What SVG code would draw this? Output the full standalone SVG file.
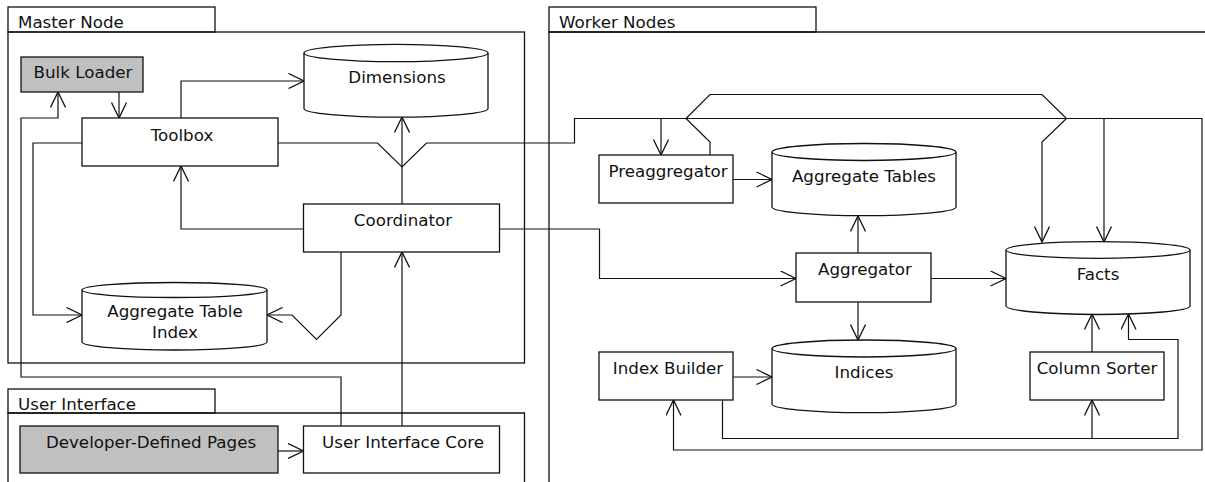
<svg xmlns="http://www.w3.org/2000/svg" width="1205" height="482" viewBox="0 0 1205 482">
  <style>
    text { font-family: "DejaVu Sans", "Liberation Sans", sans-serif; font-size: 16.7px; fill: #111; }
    .c { text-anchor: middle; }
    .frame { fill: none; stroke: #111; stroke-width: 1.3; }
    .box { fill: #fff; stroke: #111; stroke-width: 1.3; }
    .ext { fill: #c0c0c0; stroke: #111; stroke-width: 1.3; }
    .db { fill: #fff; stroke: #111; stroke-width: 1.3; }
    .wire { fill: none; stroke: #111; stroke-width: 1.2; }
    .arrow { marker-end: url(#open); }
  </style>
  <defs>
    <marker id="open" viewBox="0 0 18 16" markerWidth="18" markerHeight="16" refX="16" refY="8" orient="auto" markerUnits="userSpaceOnUse">
      <path d="M0.5,0.5 L16,8 L0.5,15.5" fill="none" stroke="#111" stroke-width="1.3"/>
    </marker>
  </defs>

  <rect width="1205" height="482" fill="#fff"/>

  <!-- package frames -->
  <g id="master-node">
    <rect class="frame" x="8" y="7" width="207" height="25"/>
    <rect class="frame" x="8" y="32" width="516.5" height="331"/>
    <text x="18" y="27.5">Master Node</text>
  </g>
  <g id="worker-nodes">
    <rect class="frame" x="549" y="7" width="267" height="25"/>
    <path class="frame" d="M549,490 L549,32 L1215,32"/>
    <text x="559" y="27.5">Worker Nodes</text>
  </g>
  <g id="user-interface">
    <rect class="frame" x="8" y="389" width="207" height="24"/>
    <path class="frame" d="M8,490 L8,413 L524.5,413 L524.5,490"/>
    <text x="18" y="409.5">User Interface</text>
  </g>

  <!-- connectors -->
  <g id="connectors">
    <!-- Bulk Loader -> Toolbox -->
    <path class="wire arrow" d="M119,92 L119,118"/>
    <!-- User Interface Core -> Bulk Loader -->
    <path class="wire arrow" d="M341,426 L341,377 L21,377 L21,118 L58,118 L58,92"/>
    <!-- Toolbox -> Dimensions -->
    <path class="wire arrow" d="M181,118 L181,81 L304,81"/>
    <!-- Toolbox -> Aggregate Table Index -->
    <path class="wire arrow" d="M82,143 L33,143 L33,315 L82,315"/>
    <!-- Coordinator -> Toolbox -->
    <path class="wire arrow" d="M303.5,229 L181,229 L181,166"/>
    <!-- Coordinator -> Dimensions -->
    <path class="wire arrow" d="M402,204 L402,117"/>
    <!-- Coordinator -> Aggregate Table Index -->
    <path class="wire arrow" d="M341,252 L341,315 L316.5,339.5 L292,315 L267,315"/>
    <!-- User Interface Core -> Coordinator -->
    <path class="wire arrow" d="M402,426 L402,252"/>
    <!-- Developer-Defined Pages -> User Interface Core -->
    <path class="wire arrow" d="M278,451 L303.5,451"/>
    <!-- Toolbox -> Index Builder (long bus) -->
    <path class="wire arrow" d="M278,143 L377.5,143 L402,167 L426.5,143 L574.5,143 L574.5,118.5 L1202,118.5 L1202,450 L673.5,450 L673.5,400"/>
    <!-- bus -> Preaggregator -->
    <path class="wire arrow" d="M661,118.5 L661,155"/>
    <!-- bus -> Facts -->
    <path class="wire arrow" d="M1104,118.5 L1104,242"/>
    <!-- Preaggregator -> Facts -->
    <path class="wire arrow" d="M710,155 L710,142 L686,118.5 L710,94.5 L1042,94.5 L1066.5,118.5 L1042,142 L1042,242"/>
    <!-- Coordinator -> Aggregator -->
    <path class="wire arrow" d="M499.5,229 L599.5,229 L599.5,278.5 L796,278.5"/>
    <!-- Preaggregator -> Aggregate Tables -->
    <path class="wire arrow" d="M733,179.5 L772,179.5"/>
    <!-- Aggregator -> Aggregate Tables -->
    <path class="wire arrow" d="M858,253 L858,216"/>
    <!-- Aggregator -> Indices -->
    <path class="wire arrow" d="M858,302 L858,340"/>
    <!-- Aggregator -> Facts -->
    <path class="wire arrow" d="M931,278.5 L1006,278.5"/>
    <!-- Index Builder -> Indices -->
    <path class="wire arrow" d="M733,377 L772,377"/>
    <!-- Index Builder -> Column Sorter -->
    <path class="wire arrow" d="M722.5,400 L722.5,438.5 L1092,438.5 L1092,400"/>
    <!-- Index Builder -> Facts -->
    <path class="wire arrow" d="M1092,438.5 L1178,438.5 L1178,339.5 L1128.5,339.5 L1128.5,314"/>
    <!-- Column Sorter -> Facts -->
    <path class="wire arrow" d="M1092,352 L1092,314"/>
  </g>

  <!-- master node components -->
  <g id="bulk-loader">
    <rect class="ext" x="21" y="57" width="122" height="35"/>
    <text class="c" x="83" y="77.5">Bulk Loader</text>
  </g>
  <g id="toolbox">
    <rect class="box" x="82" y="118" width="196" height="48"/>
    <text class="c" x="182" y="140.5">Toolbox</text>
  </g>
  <g id="coordinator">
    <rect class="box" x="303.5" y="204" width="196" height="48"/>
    <text class="c" x="403" y="226">Coordinator</text>
  </g>
  <g id="dimensions">
    <path class="db" d="M304,53 L304,108.5 A92,8.7 0 0 0 488,108.5 L488,53"/>
    <ellipse class="db" cx="396" cy="53" rx="92" ry="8.7"/>
    <text class="c" x="397" y="82.5">Dimensions</text>
  </g>
  <g id="aggregate-table-index">
    <path class="db" d="M82,290 L82,342 A92.5,8 0 0 0 267,342 L267,290"/>
    <ellipse class="db" cx="174.5" cy="290" rx="92.5" ry="7.5"/>
    <text class="c" x="175" y="316.5">Aggregate Table</text>
    <text class="c" x="175" y="337.5">Index</text>
  </g>

  <!-- user interface components -->
  <g id="developer-defined-pages">
    <rect class="ext" x="20" y="426" width="258" height="47"/>
    <text class="c" x="151" y="448">Developer-Defined Pages</text>
  </g>
  <g id="user-interface-core">
    <rect class="box" x="303.5" y="426" width="196" height="47"/>
    <text class="c" x="403" y="448">User Interface Core</text>
  </g>

  <!-- worker node components -->
  <g id="preaggregator">
    <rect class="box" x="599" y="155" width="134" height="48"/>
    <text class="c" x="668" y="176.5">Preaggregator</text>
  </g>
  <g id="aggregate-tables">
    <path class="db" d="M772,152 L772,207 A92,8.7 0 0 0 956,207 L956,152"/>
    <ellipse class="db" cx="864" cy="152" rx="92" ry="8.5"/>
    <text class="c" x="864" y="181.5">Aggregate Tables</text>
  </g>
  <g id="aggregator">
    <rect class="box" x="796" y="253" width="135" height="49"/>
    <text class="c" x="865" y="274.5">Aggregator</text>
  </g>
  <g id="facts">
    <path class="db" d="M1006,250 L1006,306 A92,8.5 0 0 0 1190,306 L1190,250"/>
    <ellipse class="db" cx="1098" cy="250" rx="92" ry="8.3"/>
    <text class="c" x="1098" y="279.5">Facts</text>
  </g>
  <g id="indices">
    <path class="db" d="M772,348.5 L772,404 A92,8.7 0 0 0 956,404 L956,348.5"/>
    <ellipse class="db" cx="864" cy="348.5" rx="92" ry="8.5"/>
    <text class="c" x="864" y="377.5">Indices</text>
  </g>
  <g id="index-builder">
    <rect class="box" x="599" y="352" width="134" height="48"/>
    <text class="c" x="668" y="373.5">Index Builder</text>
  </g>
  <g id="column-sorter">
    <rect class="box" x="1030" y="352" width="134" height="48"/>
    <text class="c" x="1097" y="373.5">Column Sorter</text>
  </g>
</svg>
